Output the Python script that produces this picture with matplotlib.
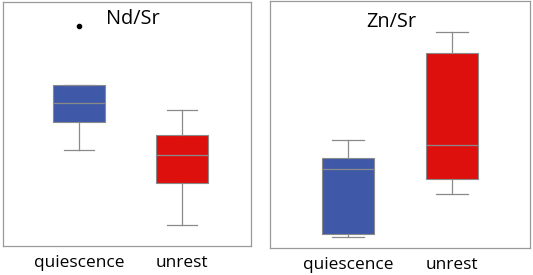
import matplotlib
matplotlib.use('Agg')
import matplotlib.pyplot as plt

plt.rcParams['font.family'] = ['Open Sans', 'DejaVu Sans']

groups = ['quiescence', 'unrest']
colors = ['#3f59a8', '#de100e']

# Nd/Sr (arbitrary units, no y scale shown)
nd_q1 = [124, 63]
nd_med = [143, 91]
nd_q3 = [161, 111]
nd_lo = [96, 21]
nd_hi = [161, 136]
nd_fliers = [[220], []]

# Zn/Sr
zn_q1 = [14, 69]
zn_med = [79, 103]
zn_q3 = [90, 195]
zn_lo = [11, 54]
zn_hi = [108, 216]
zn_fliers = [[], []]


def make_stats(q1, med, q3, lo, hi, fliers):
    out = []
    for i in range(len(groups)):
        out.append(dict(q1=q1[i], med=med[i], q3=q3[i], whislo=lo[i],
                        whishi=hi[i], fliers=fliers[i], label=groups[i]))
    return out


def draw(ax, stats, title, title_x, title_y, xlim, ylim):
    bp = ax.bxp(stats, positions=[1, 2], widths=0.5, patch_artist=True,
                showfliers=True,
                boxprops=dict(edgecolor='#8a8a8a', linewidth=0.8),
                medianprops=dict(color='#8a8a8a', linewidth=0.9),
                whiskerprops=dict(color='#8a8a8a', linewidth=0.9),
                capprops=dict(color='#8a8a8a', linewidth=0.9),
                capwidths=0.3,
                flierprops=dict(marker='o', markersize=3, markerfacecolor='black',
                                markeredgecolor='black'))
    for patch, c in zip(bp['boxes'], colors):
        patch.set_facecolor(c)
    ax.set_xlim(*xlim)
    ax.set_ylim(*ylim)
    ax.set_yticks([])
    ax.tick_params(axis='x', length=0, labelsize=12.4, pad=6.5)
    for s in ax.spines.values():
        s.set_color('#9a9a9a')
        s.set_linewidth(0.9)
    ax.text(title_x, title_y, title, transform=ax.transAxes, fontsize=14.3,
            ha='center', va='center')


fig = plt.figure(figsize=(5.33, 2.75), dpi=100)
ax1 = fig.add_axes([3 / 533, 29 / 275, 248 / 533, 244 / 275])
ax2 = fig.add_axes([270 / 533, 27 / 275, 260 / 533, 247 / 275])

draw(ax1, make_stats(nd_q1, nd_med, nd_q3, nd_lo, nd_hi, nd_fliers),
     'Nd/Sr', 0.525, 0.93, (0.262, 2.67), (0, 244))
draw(ax2, make_stats(zn_q1, zn_med, zn_q3, zn_lo, zn_hi, zn_fliers),
     'Zn/Sr', 0.465, 0.915, (0.25, 2.75), (0, 247))

fig.savefig('out.png', dpi=100)
